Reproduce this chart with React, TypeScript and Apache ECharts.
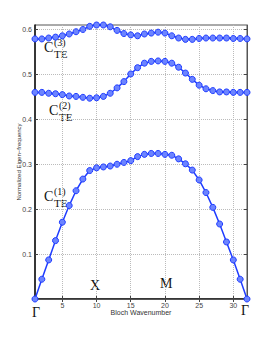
import React, { useEffect, useRef } from "react";
import * as echarts from "echarts";

const wavenumbers = Array.from({ length: 32 }, (_, i) => i + 1);
const band1 = [0, 0.044, 0.087, 0.13, 0.171, 0.208, 0.241, 0.267, 0.286, 0.292, 0.294, 0.296, 0.3, 0.304, 0.308, 0.317, 0.322, 0.324, 0.324, 0.322, 0.32, 0.312, 0.301, 0.287, 0.265, 0.237, 0.204, 0.167, 0.127, 0.087, 0.044, 0];
const band2 = [0.46, 0.46, 0.458, 0.457, 0.455, 0.452, 0.451, 0.449, 0.447, 0.448, 0.451, 0.458, 0.47, 0.484, 0.501, 0.515, 0.525, 0.529, 0.53, 0.529, 0.525, 0.516, 0.503, 0.489, 0.476, 0.468, 0.464, 0.461, 0.461, 0.46, 0.46, 0.46];
const band3 = [0.579, 0.579, 0.581, 0.583, 0.586, 0.59, 0.595, 0.6, 0.607, 0.61, 0.61, 0.606, 0.598, 0.591, 0.588, 0.586, 0.59, 0.592, 0.594, 0.592, 0.586, 0.581, 0.578, 0.578, 0.58, 0.581, 0.581, 0.581, 0.581, 0.58, 0.58, 0.579];
const xTicks = [5, 10, 15, 20, 25, 30];
const yTicks = [0.1, 0.2, 0.3, 0.4, 0.5, 0.6];

const serif = "'Liberation Serif', 'DejaVu Serif', serif";
const sans = "'Liberation Sans', 'DejaVu Sans', sans-serif";

function bandLabel(n: string, cx: number, cy: number) {
  return [
    { type: "text", left: cx, top: cy, style: { text: "C", font: `14px ${serif}`, fill: "#111" } },
    { type: "text", left: cx + 10, top: cy - 3, style: { text: `(${n})`, font: `10px ${serif}`, fill: "#111" } },
    { type: "text", left: cx + 10, top: cy + 8, style: { text: "TE", font: `11px ${serif}`, fill: "#111" } },
  ];
}

export default function App() {
  const ref = useRef<HTMLDivElement>(null);
  useEffect(() => {
    if (!ref.current) return;
    const chart = echarts.init(ref.current, null, { renderer: "svg" });
    const lineColor = "#1f3cff";
    const mkSeries = (data: number[]) => ({
      type: "line",
      data: wavenumbers.map((x, i) => [x, data[i]]),
      symbol: "circle",
      symbolSize: 6,
      clip: false,
      lineStyle: { color: lineColor, width: 1.5 },
      itemStyle: { color: "#6c84ff", borderColor: lineColor, borderWidth: 1 },
    });
    chart.setOption({
      animation: false,
      grid: { left: 35, right: 26, top: 25, bottom: 38, show: true, borderColor: "#555", borderWidth: 1 },
      xAxis: [
        {
          type: "value",
          min: 1,
          max: 32,
          name: "Bloch Wavenumber",
          nameLocation: "middle",
          nameGap: 10,
          nameMoveOverlap: false,
          nameTextStyle: { fontSize: 7, fontFamily: sans, color: "#333" },
          axisLine: { lineStyle: { color: "#111", width: 1.5 } },
          axisTick: { inside: true, length: 3, customValues: xTicks, lineStyle: { color: "#444" } },
          axisLabel: { customValues: xTicks, fontSize: 7, fontFamily: sans, color: "#444", margin: 3 },
          splitLine: { show: true, lineStyle: { type: "dotted", color: "#bbb" } },
        },
        {
          type: "value",
          min: 1,
          max: 32,
          position: "top",
          axisLine: { show: true, lineStyle: { color: "#555", width: 1 } },
          axisTick: { inside: true, length: 3, customValues: xTicks, lineStyle: { color: "#444" } },
          axisLabel: { show: false },
          splitLine: { show: false },
        },
      ],
      yAxis: [
        {
          type: "value",
          min: 0,
          max: 0.61,
          name: "Normalized Eigen\u2212frequency",
          nameLocation: "middle",
          nameGap: 13,
          nameMoveOverlap: false,
          nameTextStyle: { fontSize: 6, fontFamily: sans, color: "#333" },
          axisLine: { show: true, lineStyle: { color: "#111", width: 1.5 } },
          axisTick: { show: true, inside: true, length: 3, customValues: yTicks, lineStyle: { color: "#444" } },
          axisLabel: { customValues: yTicks, fontSize: 7, fontFamily: sans, color: "#444", margin: 3 },
          splitLine: { show: true, lineStyle: { type: "dotted", color: "#bbb" } },
        },
        {
          type: "value",
          min: 0,
          max: 0.61,
          position: "right",
          axisLine: { show: true, lineStyle: { color: "#555", width: 1 } },
          axisTick: { show: true, inside: true, length: 3, customValues: yTicks, lineStyle: { color: "#444" } },
          axisLabel: { show: false },
          splitLine: { show: false },
        },
      ],
      series: [mkSeries(band1), mkSeries(band2), mkSeries(band3)],
      graphic: [
        ...bandLabel("1", 44, 189),
        ...bandLabel("2", 49, 103),
        ...bandLabel("3", 44, 40),
        { type: "text", left: 90, top: 278, style: { text: "X", font: `14px ${serif}`, fill: "#111" } },
        { type: "text", left: 160, top: 276, style: { text: "M", font: `14px ${serif}`, fill: "#111" } },
        { type: "text", left: 32, top: 305, style: { text: "\u0393", font: `14px ${serif}`, fill: "#111" } },
        { type: "text", left: 241, top: 303, style: { text: "\u0393", font: `14px ${serif}`, fill: "#111" } },
      ],
    });
    return () => chart.dispose();
  }, []);
  return <div ref={ref} style={{ width: 273, height: 337, margin: -8 }} />;
}
